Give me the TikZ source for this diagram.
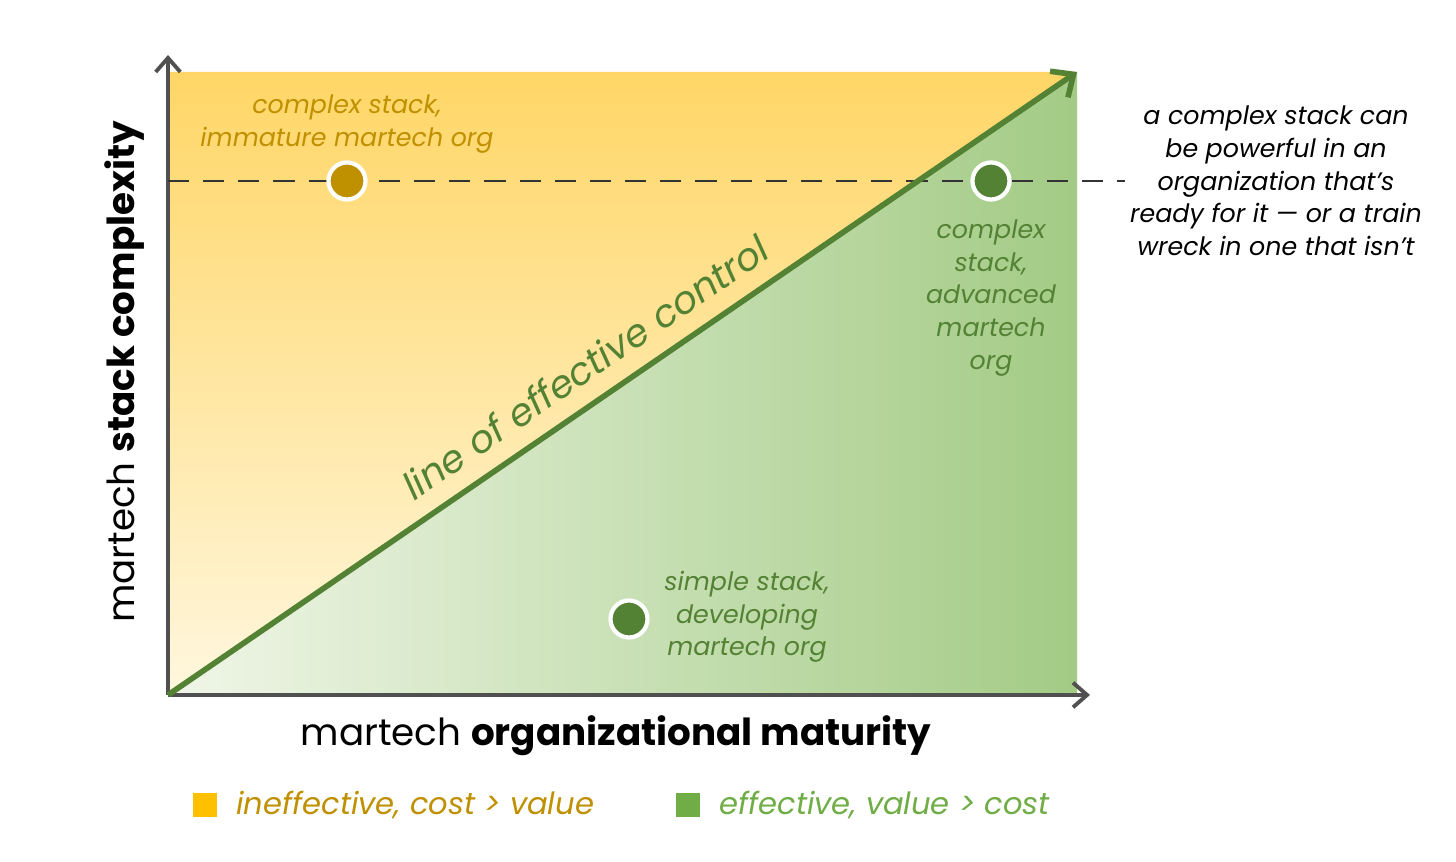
\documentclass[tikz,border=0pt]{standalone}
\usepackage{fontspec}
\setmainfont{Poppins}
\definecolor{gold}{RGB}{191,144,0}
\definecolor{dgreen}{RGB}{84,130,53}
\definecolor{lgreen}{RGB}{112,173,71}
\definecolor{legy}{RGB}{255,192,0}
\definecolor{axisc}{RGB}{80,80,80}
\newlength{\pxu}\setlength{\pxu}{0.2845pt}
\usetikzlibrary{arrows.meta}
\tikzset{
  dot/.style={circle,draw=white,line width=1.2pt,minimum size=37\pxu,inner sep=0pt},
  lbl/.style={font=\fontsize{7.2}{9.3}\selectfont\itshape,align=center,text=dgreen},
  axis/.style={axisc,line width=1.1pt,-{Straight Barb[length=4pt,width=7pt]}}
}
\begin{document}
\begin{tikzpicture}[x=0.01cm,y=-0.01cm]
\useasboundingbox (0,0) rectangle (1456,862);
\coordinate (O) at (168,695);
\coordinate (TL) at (168,72);
\coordinate (TR) at (1077,72);
\coordinate (BR) at (1077,695);
\begin{scope}
\clip (O) -- (TL) -- (TR) -- cycle;
\shade[top color={rgb,255:red,255;green,214;blue,102},bottom color={rgb,255:red,255;green,247;blue,222}] (168,72) rectangle (1077,695);
\end{scope}
\begin{scope}
\clip (O) -- (TR) -- (BR) -- cycle;
\shade[left color={rgb,255:red,240;green,246;blue,232},right color={rgb,255:red,163;green,203;blue,133}] (168,72) rectangle (1077,695);
\end{scope}
\coordinate (yend) at (168,55);
\coordinate (xend) at (1090,695);
\draw[axis] (O) -- (yend);
\draw[axis] (O) -- (xend);
\coordinate (dl) at (168,181);
\coordinate (dr) at (1125,181);
\draw[black!80,line width=0.7pt,dash pattern=on 6pt off 4pt] (dl) -- (dr);
\draw[dgreen,line width=1.6pt,-{Straight Barb[length=5pt,width=9pt]}] (O) -- (TR);
\node[dot,fill=gold] (d1) at (347,181) {};
\node[dot,fill=dgreen] (d2) at (991,181) {};
\node[dot,fill=dgreen] (d3) at (629,619) {};
\node[lbl,text=gold] (l1) at (347,124) {complex stack,\\immature martech org};
\node[lbl] (l2) at (991,298) {complex\\stack,\\advanced\\martech\\org};
\node[lbl] (l3) at (747,617) {simple stack,\\developing\\martech org};
\node[lbl,text=black] (l4) at (1276,181) {a complex stack can\\be powerful in an\\organization that’s\\ready for it — or a train\\wreck in one that isn’t};
\node[font=\fontsize{10.8}{12}\selectfont\itshape,text=dgreen,rotate=34.4] (lec) at (585,367) {line of effective control};
\node[font=\fontsize{10.6}{13}\selectfont,rotate=90] (ya) at (125,372) {martech \textbf{stack complexity}};
\node[font=\fontsize{10.6}{13}\selectfont] (xa) at (616,736) {martech \textbf{organizational maturity}};
\node[fill=legy,minimum size=24\pxu,inner sep=0pt] (s1) at (205,805) {};
\node[fill=lgreen,minimum size=24\pxu,inner sep=0pt] (s2) at (688,805) {};
\node[font=\fontsize{8.7}{10}\selectfont\itshape,text=gold,anchor=west] (t1) at (224,805) {ineffective, cost > value};
\node[font=\fontsize{8.7}{10}\selectfont\itshape,text=lgreen,anchor=west] (t2) at (707,805) {effective, value > cost};
\end{tikzpicture}
\end{document}
